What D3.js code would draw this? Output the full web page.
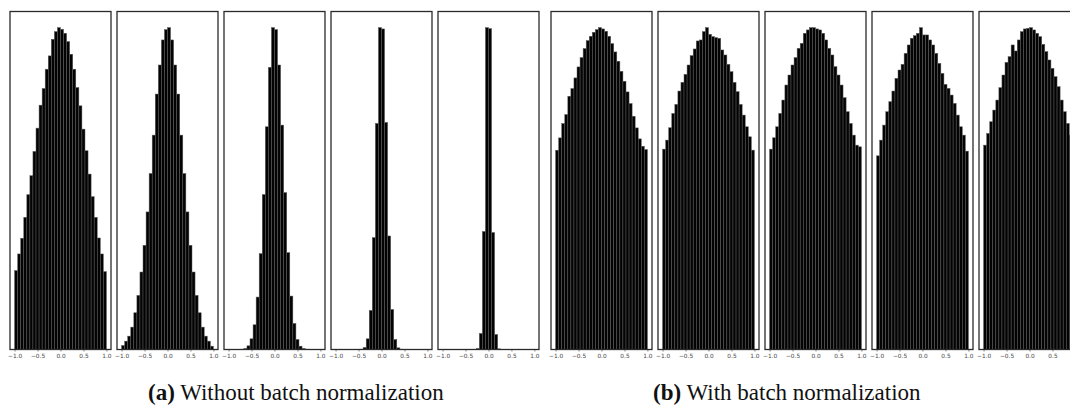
<!DOCTYPE html>
<html>
<head>
<meta charset="utf-8">
<script src="https://cdn.jsdelivr.net/npm/d3@7"></script>
<style>
  html, body { margin: 0; padding: 0; background: #fff; }
  svg { display: block; }
</style>
</head>
<body>
<div id="chart"></div>
<script>
  // ========== data ==========
  // 30 equal bins over [-1, 1], values are bar heights (counts) per bin
  const binCount = 30;
  const xTicks = [-1.0, -0.5, 0.0, 0.5, 1.0];

  // (a) without batch normalization, layer 1..5
  const noBN1 = [237, 287, 334, 397, 465, 522, 595, 665, 734, 784, 842, 882, 932, 955, 967,
                 962, 950, 925, 887, 842, 787, 732, 662, 597, 527, 459, 397, 335, 287, 234];
  const noBN2 = [12, 25, 40, 67, 110, 162, 232, 312, 412, 527, 642, 765, 852, 927, 958,
                 964, 927, 852, 765, 642, 527, 412, 312, 232, 162, 110, 67, 40, 25, 10];
  const noBN3 = [0, 0, 0, 0, 1, 3, 11, 32, 74, 157, 287, 464, 667, 845, 964,
                 958, 852, 672, 470, 290, 160, 78, 30, 10, 3, 1, 0, 0, 0, 0];
  const noBN4 = [0, 0, 0, 0, 0, 0, 0, 0, 1, 6, 32, 117, 335, 677, 964,
                 960, 680, 340, 120, 30, 5, 1, 0, 0, 0, 0, 0, 0, 0, 0];
  const noBN5 = [0, 0, 0, 0, 0, 0, 0, 0, 0, 0, 0, 3, 48, 353, 963,
                 960, 350, 45, 2, 0, 0, 0, 0, 0, 0, 0, 0, 0, 0, 0];

  // (b) with batch normalization, layer 1..5
  const withBN1 = [598, 635, 678, 705, 760, 783, 815, 848, 876, 903, 927, 940, 952, 960, 966,
                   962, 955, 940, 918, 893, 865, 835, 805, 773, 738, 700, 665, 632, 610, 600];
  const withBN2 = [600, 627, 664, 707, 734, 774, 800, 824, 852, 880, 900, 924, 927, 952, 964,
                   944, 937, 934, 932, 897, 882, 854, 832, 800, 772, 734, 702, 667, 637, 597];
  const withBN3 = [600, 634, 667, 707, 747, 792, 822, 852, 874, 902, 917, 947, 957, 964, 964,
                   960, 957, 947, 927, 902, 882, 847, 822, 792, 754, 712, 677, 642, 612, 607];
  const withBN4 = [580, 627, 672, 712, 742, 774, 812, 837, 854, 887, 912, 932, 940, 947, 964,
                   942, 942, 927, 912, 887, 857, 827, 794, 782, 762, 737, 702, 667, 642, 594];
  const withBN5 = [612, 647, 682, 717, 747, 784, 822, 860, 877, 912, 894, 927, 952, 960, 962,
                   964, 957, 947, 937, 914, 892, 867, 842, 817, 787, 747, 712, 677, 642, 605];

  const captionTags = ['(a)', '(b)'];
  const captionTexts = ['Without batch normalization', 'With batch normalization'];

  (function() {
    const width = 1070, height = 409;
    const panelW = 101, panelStep = 107;
    const panelTop = 11.5, panelBottom = 349.5;

    const groups = [
      { left: 10,  series: [noBN1, noBN2, noBN3, noBN4, noBN5], captionX: 148 },
      { left: 551, series: [withBN1, withBN2, withBN3, withBN4, withBN5], captionX: 653 }
    ];

    const binEdges = d3.range(binCount + 1).map(i => -1 + 2 * i / binCount);

    const svg = d3.select('#chart')
      .append('svg')
      .attr('width', width)
      .attr('height', height);

    groups.forEach((group, gi) => {
      group.series.forEach((values, pi) => {
        const x0 = group.left + pi * panelStep;

        // matplotlib-like 5% margins
        const x = d3.scaleLinear().domain([-1.1, 1.1]).range([x0, x0 + panelW]);
        const y = d3.scaleLinear().domain([0, d3.max(values) * 1.05]).range([panelBottom, panelTop]);

        const g = svg.append('g');

        // bars
        g.append('g')
          .selectAll('rect')
          .data(values.map((v, i) => ({ v, a: binEdges[i], b: binEdges[i + 1] })).filter(d => d.v > 0))
          .enter()
          .append('rect')
          .attr('x', d => x(d.a))
          .attr('width', d => x(d.b) - x(d.a))
          .attr('y', d => y(d.v))
          .attr('height', d => panelBottom - y(d.v))
          .attr('fill', '#030303')
          .attr('stroke', '#5c5c5c')
          .attr('stroke-width', 0.5);

        // x axis
        const axis = g.append('g')
          .attr('transform', `translate(0,${panelBottom})`)
          .call(d3.axisBottom(x)
            .tickValues(xTicks)
            .tickSize(2)
            .tickFormat(d => d3.format('.1f')(d).replace('-', '\u2212')));
        axis.select('.domain').remove();
        axis.selectAll('line').attr('stroke', '#333').attr('stroke-width', 0.6);
        axis.selectAll('text')
          .attr('y', 4.5)
          .attr('dy', '0.71em')
          .attr('fill', '#444')
          .style('font-family', '"DejaVu Sans", sans-serif')
          .style('font-size', '5.8px');

        // frame
        g.append('rect')
          .attr('x', x0)
          .attr('y', panelTop)
          .attr('width', panelW)
          .attr('height', panelBottom - panelTop)
          .attr('fill', 'none')
          .attr('stroke', '#2a2a2a')
          .attr('stroke-width', 1.3);
      });

      // caption
      const cap = svg.append('text')
        .attr('x', group.captionX)
        .attr('y', 400)
        .style('font-family', '"Liberation Serif", serif')
        .style('font-size', '23px')
        .attr('fill', '#111');
      cap.append('tspan')
        .style('font-weight', 'bold')
        .text(captionTags[gi]);
      cap.append('tspan')
        .text(' ' + captionTexts[gi]);
    });
  })();
</script>
</body>
</html>
